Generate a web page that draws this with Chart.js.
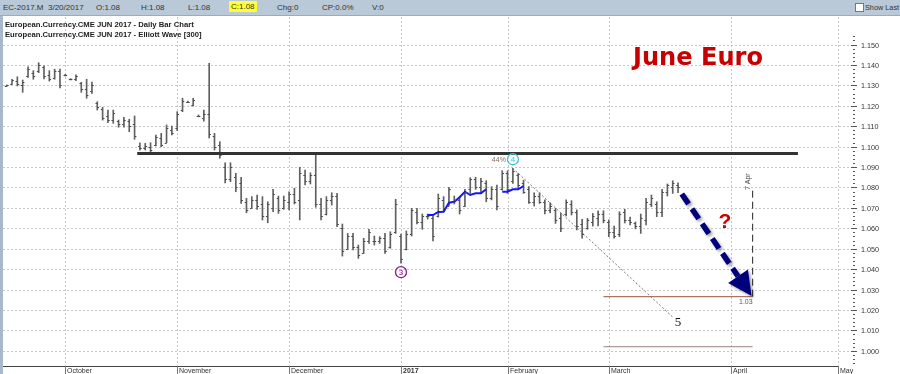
<!DOCTYPE html>
<html>
<head>
<meta charset="utf-8">
<script src="https://cdn.jsdelivr.net/npm/chart.js@4.4.1/dist/chart.umd.min.js"></script>
<style>
  html, body { margin: 0; padding: 0; background: #fff; }
  #wrap { position: relative; width: 900px; height: 374px; overflow: hidden; }
  #bar { position: absolute; left: 0; top: 0; width: 900px; height: 15px; background: #b9c9d8; border-bottom: 1px solid #9aacbd;
         font: 8px "Liberation Sans", Arial, sans-serif; color: #333; z-index: 2; }
  #bar span { position: absolute; top: 3px; white-space: nowrap; }
  #bar .hl { background: #ffff33; padding: 0 2px; top: 1px; line-height: 11px; }
  #bar .box { width: 7px; height: 7px; border: 1px solid #777; background: #fff; top: 3px; }
  #bar .small { font-size: 7.3px; top: 3px; }
  #side { position: absolute; left: 0; top: 16px; width: 3px; height: 358px; background: #a9b9c9; z-index: 2; }
  canvas { position: absolute; left: 0; top: 0; }
</style>
</head>
<body>
<div id="wrap">
  <div id="bar">
    <span style="left:3px">EC-2017.M</span>
    <span style="left:48px">3/20/2017</span>
    <span style="left:96px">O:1.08</span>
    <span style="left:141px">H:1.08</span>
    <span style="left:188px">L:1.08</span>
    <span class="hl" style="left:229px">C:1.08</span>
    <span style="left:277px">Chg:0</span>
    <span style="left:322px">CP:0.0%</span>
    <span style="left:372px">V:0</span>
    <span class="box" style="left:855px"></span>
    <span class="small" style="left:865px">Show Last</span>
  </div>
  <div id="side"></div>
  <canvas id="chart" width="900" height="374"></canvas>
</div>
<script>
// daily bars, 16 Sep 2016 .. 20 Mar 2017 (trading-day index)
const highs = [1.1302,1.1330,1.1342,1.1326,1.1391,1.1372,1.1411,1.1395,1.1372,1.1379,
  1.1380,1.1354,1.1333,1.1351,1.1315,1.1330,1.1316,1.1220,1.1192,1.1179,
  1.1179,1.1130,1.1143,1.1134,1.1150,1.1019,1.1016,1.1019,1.1057,1.1065,
  1.1106,1.1101,1.1171,1.1237,1.1223,1.1237,1.1155,1.1179,1.1408,1.1065,
  1.1024,1.0920,1.0921,1.0869,1.0850,1.0747,1.0755,1.0763,1.0755,1.0730,
  1.0791,1.0758,1.0758,1.0779,1.0796,1.0899,1.0885,1.0872,1.0964,1.0747,
  1.0755,1.0774,1.0771,1.0621,1.0575,1.0575,1.0518,1.0551,1.0595,1.0562,
  1.0559,1.0575,1.0583,1.0742,1.0572,1.0587,1.0698,1.0698,1.0670,1.0670,
  1.0660,1.0768,1.0755,1.0800,1.0758,1.0752,1.0791,1.0848,1.0850,1.0845,
  1.0833,1.0804,1.0812,1.0882,1.0882,1.0894,1.0869,1.0836,1.0804,1.0774,
  1.0774,1.0739,1.0725,1.0698,1.0673,1.0739,1.0735,1.0690,1.0644,1.0649,
  1.0673,1.0686,1.0686,1.0641,1.0611,1.0681,1.0693,1.0655,1.0631,1.0670,
  1.0747,1.0763,1.0730,1.0791,1.0817,1.0833,1.0823];
const lows = [1.1294,1.1305,1.1297,1.1266,1.1339,1.1330,1.1362,1.1331,1.1321,1.1330,
  1.1288,1.1346,1.1326,1.1323,1.1266,1.1237,1.1261,1.1179,1.1130,1.1117,
  1.1114,1.1095,1.1095,1.1073,1.1036,1.0983,1.0983,1.0970,1.1003,1.0999,
  1.1019,1.1057,1.1078,1.1171,1.1216,1.1199,1.1146,1.1125,1.1042,1.0983,
  1.0943,1.0822,1.0828,1.0779,1.0722,1.0676,1.0698,1.0693,1.0641,1.0627,
  1.0681,1.0673,1.0693,1.0690,1.0719,1.0641,1.0812,1.0817,1.0703,1.0641,
  1.0665,1.0714,1.0608,1.0464,1.0497,1.0494,1.0453,1.0477,1.0526,1.0518,
  1.0526,1.0477,1.0502,1.0575,1.0429,1.0494,1.0562,1.0621,1.0595,1.0645,
  1.0538,1.0655,1.0681,1.0709,1.0719,1.0670,1.0706,1.0771,1.0791,1.0771,
  1.0730,1.0739,1.0690,1.0787,1.0771,1.0820,1.0796,1.0771,1.0722,1.0709,
  1.0722,1.0670,1.0676,1.0624,1.0583,1.0660,1.0665,1.0592,1.0551,1.0595,
  1.0611,1.0611,1.0627,1.0559,1.0552,1.0559,1.0626,1.0616,1.0597,1.0575,
  1.0616,1.0706,1.0657,1.0657,1.0758,1.0771,1.0774];
const opens = [1.1296,1.1308,1.1322,1.1300,1.1345,1.1360,1.1370,1.1390,1.1350,1.1335,
  1.1370,1.1350,1.1330,1.1330,1.1310,1.1280,1.1270,1.1215,1.1185,1.1150,
  1.1130,1.1125,1.1110,1.1125,1.1110,1.1005,1.0995,1.1000,1.1010,1.1040,
  1.1020,1.1080,1.1090,1.1180,1.1220,1.1205,1.1150,1.1140,1.1160,1.1050,
  1.1010,1.0900,1.0840,1.0850,1.0820,1.0730,1.0700,1.0740,1.0720,1.0660,
  1.0700,1.0750,1.0700,1.0730,1.0770,1.0740,1.0860,1.0830,1.0860,1.0720,
  1.0670,1.0740,1.0760,1.0600,1.0500,1.0560,1.0510,1.0480,1.0540,1.0540,
  1.0540,1.0550,1.0510,1.0580,1.0560,1.0500,1.0570,1.0680,1.0630,1.0660,
  1.0650,1.0660,1.0740,1.0710,1.0730,1.0740,1.0710,1.0790,1.0840,1.0800,
  1.0820,1.0750,1.0790,1.0790,1.0870,1.0830,1.0860,1.0820,1.0790,1.0730,
  1.0760,1.0730,1.0690,1.0690,1.0650,1.0670,1.0720,1.0680,1.0620,1.0600,
  1.0630,1.0650,1.0670,1.0630,1.0580,1.0570,1.0680,1.0640,1.0625,1.0610,
  1.0640,1.0720,1.0720,1.0680,1.0780,1.0800,1.0810];
const closes = [1.1300,1.1325,1.1305,1.1318,1.1380,1.1345,1.1400,1.1345,1.1330,1.1370,
  1.1300,1.1350,1.1330,1.1345,1.1280,1.1255,1.1300,1.1195,1.1140,1.1130,
  1.1165,1.1110,1.1130,1.1100,1.1050,1.0995,1.1005,1.0985,1.1045,1.1010,
  1.1090,1.1065,1.1160,1.1225,1.1220,1.1230,1.1150,1.1160,1.1060,1.1000,
  1.0960,1.0840,1.0900,1.0800,1.0740,1.0690,1.0740,1.0710,1.0660,1.0720,
  1.0770,1.0690,1.0740,1.0770,1.0730,1.0870,1.0830,1.0860,1.0720,1.0660,
  1.0740,1.0760,1.0620,1.0490,1.0560,1.0510,1.0470,1.0540,1.0580,1.0540,
  1.0550,1.0490,1.0570,1.0720,1.0450,1.0570,1.0690,1.0630,1.0660,1.0660,
  1.0560,1.0750,1.0700,1.0790,1.0740,1.0690,1.0780,1.0840,1.0800,1.0830,
  1.0750,1.0790,1.0710,1.0870,1.0790,1.0880,1.0810,1.0780,1.0730,1.0760,
  1.0730,1.0690,1.0710,1.0640,1.0600,1.0730,1.0680,1.0610,1.0570,1.0640,
  1.0660,1.0670,1.0640,1.0580,1.0560,1.0670,1.0640,1.0630,1.0610,1.0650,
  1.0730,1.0750,1.0680,1.0780,1.0810,1.0820,1.0800];

// x axis: first trading day of each month
const monthLabels = ['October', 'November', 'December', '2017', 'February', 'March', 'April', 'May'];
const monthIdx = [11, 32, 53, 74, 94, 113, 136, 156];
const priceTicks = [1.000, 1.010, 1.020, 1.030, 1.040, 1.050, 1.060, 1.070,
  1.080, 1.090, 1.100, 1.110, 1.120, 1.130, 1.140, 1.150];

// elliott wave study
const maStart = 79;
const waveMa = [1.0665, 1.0665, 1.0680, 1.0681, 1.0725, 1.0730, 1.0752, 1.0779, 1.0763, 1.0771,
  1.0771, 1.0791, null, null, 1.0779, 1.0779, 1.0791, 1.0791, 1.0807];
const wave3Bar = 74, wave4Bar = 95;
const wave5Line = [[95, 1.0894], [125, 1.0165]];

// drawn lines
const support = { level: 1.0966, from: 24.5, to: 148.5 };
const target = { level: 1.0265, floor: 1.0020, from: 112, to: 140 };
const apr7 = { x: 140, top: 1.0797 };
const arrowFrom = [126.7, 1.0768], arrowTo = [139.8, 1.0268];

const FONT = '"Liberation Sans", Arial, sans-serif';

function seg(ctx, x1, y1, x2, y2) {
  ctx.beginPath(); ctx.moveTo(x1, y1); ctx.lineTo(x2, y2); ctx.stroke();
}

function circled(ctx, cx, cy, txt, color) {
  ctx.strokeStyle = color; ctx.lineWidth = 1.3;
  ctx.beginPath(); ctx.arc(cx, cy, 5.5, 0, Math.PI * 2); ctx.stroke();
  ctx.fillStyle = color; ctx.font = '8px ' + FONT;
  ctx.textAlign = 'center'; ctx.textBaseline = 'middle';
  ctx.fillText(txt, cx, cy + 0.5);
}

const overlay = {
  id: 'overlay',
  beforeDatasetsDraw(chart) {
    const { ctx, chartArea: a, scales: { x, y } } = chart;
    ctx.save();
    ctx.strokeStyle = '#c6c6c6'; ctx.lineWidth = 1; ctx.setLineDash([2, 2]);
    priceTicks.forEach(p => {
      const py = Math.round(y.getPixelForValue(p)) + 0.5;
      seg(ctx, a.left, py, 851, py);
    });
    monthIdx.forEach(i => {
      const px = Math.round(x.getPixelForValue(i)) + 0.5;
      seg(ctx, px, a.top, px, a.bottom);
    });
    ctx.restore();
  },
  afterDatasetsDraw(chart) {
    const { ctx, chartArea: a, scales: { x, y } } = chart;
    ctx.save();

    // open / close ticks
    ctx.strokeStyle = '#4a4a4a'; ctx.lineWidth = 1;
    highs.forEach((h, i) => {
      const px = x.getPixelForValue(i);
      const yo = Math.round(y.getPixelForValue(opens[i])) + 0.5;
      const yc = Math.round(y.getPixelForValue(closes[i])) + 0.5;
      seg(ctx, px - 1.8, yo, px, yo);
      seg(ctx, px, yc, px + 1.8, yc);
    });

    // titles
    ctx.fillStyle = '#222'; ctx.textAlign = 'left'; ctx.textBaseline = 'middle';
    const t1 = 'European.Currency.CME JUN 2017 - Daily Bar Chart';
    ctx.font = 'bold 10px ' + FONT;
    const fs = 10 * 189 / ctx.measureText(t1).width;
    ctx.font = 'bold ' + fs.toFixed(2) + 'px ' + FONT;
    ctx.fillText(t1, 5, 25);
    ctx.fillText('European.Currency.CME JUN 2017 - Elliott Wave [300]', 5, 34.5);

    // June Euro
    ctx.font = 'bold 10px "DejaVu Sans", sans-serif';
    const js = 10 * 130 / ctx.measureText('June Euro').width;
    ctx.font = 'bold ' + js.toFixed(2) + 'px "DejaVu Sans", sans-serif';
    ctx.fillStyle = '#c80000'; ctx.textBaseline = 'alphabetic';
    ctx.fillText('June Euro', 633, 65);

    // wave labels
    const w4x = x.getPixelForValue(wave4Bar), w4y = y.getPixelForValue(highs[wave4Bar]) - 9;
    circled(ctx, w4x, w4y, '4', '#3cc8d0');
    ctx.fillStyle = '#8a6a5a'; ctx.font = '7px ' + FONT; ctx.textAlign = 'right'; ctx.textBaseline = 'middle';
    ctx.fillText('44%', w4x - 7, w4y + 1);
    const w3x = x.getPixelForValue(wave3Bar), w3y = y.getPixelForValue(lows[wave3Bar]) + 9;
    circled(ctx, w3x, w3y, '3', '#8a1a8a');

    const p5x = x.getPixelForValue(wave5Line[1][0]), p5y = y.getPixelForValue(wave5Line[1][1]);
    ctx.fillStyle = '#111'; ctx.font = '13px "Liberation Serif", serif';
    ctx.textAlign = 'left'; ctx.textBaseline = 'middle';
    ctx.fillText('5', p5x + 2, p5y + 5);

    // target label
    ctx.fillStyle = '#555'; ctx.font = '7px ' + FONT; ctx.textAlign = 'right';
    ctx.fillText('1.03', x.getPixelForValue(target.to), y.getPixelForValue(target.level) + 5);

    // 7 Apr label
    ctx.save();
    ctx.translate(x.getPixelForValue(apr7.x) - 1, y.getPixelForValue(apr7.top) + 2);
    ctx.rotate(-Math.PI / 2);
    ctx.textAlign = 'left'; ctx.textBaseline = 'bottom'; ctx.fillStyle = '#444';
    ctx.fillText('7 Apr', 0, 0);
    ctx.restore();

    // projection arrow
    const sx = x.getPixelForValue(arrowFrom[0]), sy = y.getPixelForValue(arrowFrom[1]);
    const tx = x.getPixelForValue(arrowTo[0]), ty = y.getPixelForValue(arrowTo[1]);
    const len = Math.hypot(tx - sx, ty - sy), ux = (tx - sx) / len, uy = (ty - sy) / len;
    const bx = tx - ux * 24, by = ty - uy * 24;
    ctx.save();
    ctx.shadowColor = 'rgba(0,0,0,0.35)'; ctx.shadowBlur = 3; ctx.shadowOffsetX = 2; ctx.shadowOffsetY = 2;
    ctx.strokeStyle = '#00007c'; ctx.lineWidth = 5.5; ctx.setLineDash([12, 6]); ctx.lineCap = 'butt';
    seg(ctx, sx, sy, bx, by);
    ctx.setLineDash([]);
    ctx.fillStyle = '#00007c';
    ctx.beginPath();
    ctx.moveTo(tx, ty);
    ctx.lineTo(bx - uy * 12, by + ux * 12);
    ctx.lineTo(bx + uy * 12, by - ux * 12);
    ctx.closePath(); ctx.fill();
    ctx.restore();

    ctx.fillStyle = '#cc0000'; ctx.font = 'bold 21px ' + FONT; ctx.textAlign = 'center'; ctx.textBaseline = 'middle';
    ctx.fillText('?', 725, 222);

    // x axis
    ctx.strokeStyle = '#444'; ctx.lineWidth = 1; ctx.setLineDash([]);
    seg(ctx, a.left, a.bottom + 0.5, 838, a.bottom + 0.5);
    ctx.textAlign = 'left'; ctx.textBaseline = 'middle'; ctx.fillStyle = '#333';
    monthIdx.forEach((i, k) => {
      const px = Math.round(x.getPixelForValue(i)) + 0.5;
      ctx.strokeStyle = '#777';
      seg(ctx, px, a.bottom, px, 374);
      ctx.font = (monthLabels[k] === '2017' ? 'bold ' : '') + '7px ' + FONT;
      ctx.fillText(monthLabels[k], px + 1.5, 371);
    });

    // y axis
    ctx.strokeStyle = '#555';
    for (let k = 0; k <= 80; k++) {
      const py = Math.round(y.getPixelForValue(0.994 + k * 0.002)) + 0.5;
      seg(ctx, 853, py, 855, py);
    }
    ctx.font = '7.2px ' + FONT; ctx.fillStyle = '#333';
    priceTicks.forEach(p => {
      const py = Math.round(y.getPixelForValue(p)) + 0.5;
      seg(ctx, 851, py, 857, py);
      ctx.fillText(p.toFixed(3), 861, py + 0.5);
    });
    ctx.restore();
  }
};

const pts = arr => arr.map(([a, b]) => ({ x: a, y: b }));

new Chart(document.getElementById('chart'), {
  type: 'bar',
  data: {
    datasets: [
      {
        type: 'bar',
        data: highs.map((h, i) => ({ x: i, y: [lows[i], h] })),
        backgroundColor: '#606060', barThickness: 1, borderWidth: 0, grouped: false, order: 5
      },
      {
        type: 'line',
        data: waveMa.map((v, k) => ({ x: maStart + k, y: v })),
        borderColor: '#1414ff', borderWidth: 2, pointRadius: 0, spanGaps: false, order: 1
      },
      {
        type: 'line',
        data: pts([[support.from, support.level], [support.to, support.level]]),
        borderColor: '#333', borderWidth: 3, pointRadius: 0, order: 2
      },
      {
        type: 'line',
        data: pts([[target.from, target.level], [target.to, target.level]]),
        borderColor: '#a0523f', borderWidth: 1, pointRadius: 0, order: 2
      },
      {
        type: 'line',
        data: pts([[target.from, target.floor], [target.to, target.floor]]),
        borderColor: '#9a8481', borderWidth: 1, pointRadius: 0, order: 2
      },
      {
        type: 'line',
        data: pts(wave5Line),
        borderColor: '#777', borderWidth: 1, borderDash: [2, 2], pointRadius: 0, order: 2
      },
      {
        type: 'line',
        data: pts([[apr7.x, target.level], [apr7.x, apr7.top]]),
        borderColor: '#222', borderWidth: 1, borderDash: [7, 4], pointRadius: 0, order: 2
      }
    ]
  },
  options: {
    responsive: false,
    animation: false,
    devicePixelRatio: 1,
    layout: { padding: { left: 3, top: 17, right: 50, bottom: 8 } },
    plugins: { legend: { display: false }, tooltip: { enabled: false } },
    scales: {
      x: { type: 'linear', min: -0.694, max: 158.27, offset: false, display: false },
      y: { type: 'linear', min: 0.99256, max: 1.16347, display: false }
    }
  },
  plugins: [overlay]
});
</script>
</body>
</html>
